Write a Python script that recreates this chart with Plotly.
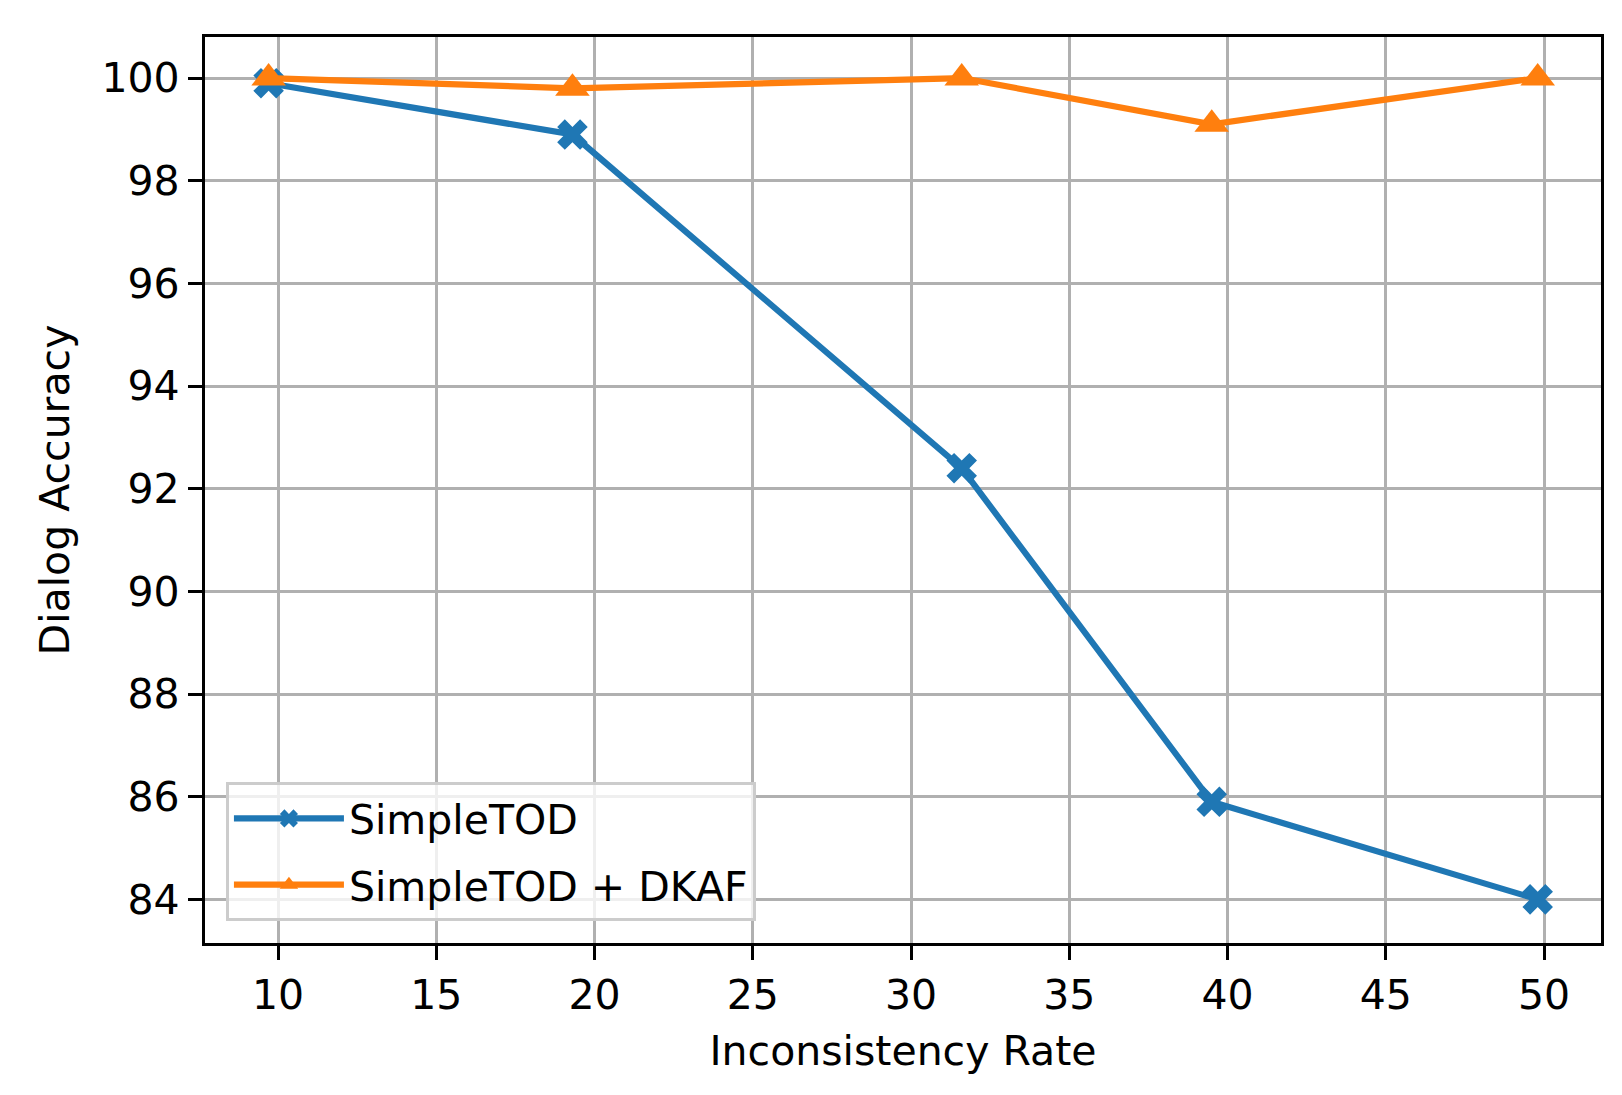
import plotly.graph_objects as go

x_rate = [9.7, 19.3, 31.6, 39.5, 49.8]
simpletod = [99.9, 98.9, 92.4, 85.9, 84.0]
simpletod_dkaf = [100.0, 99.8, 100.0, 99.1, 100.0]
series_names = ["SimpleTOD", "SimpleTOD + DKAF"]

FONT = "DejaVu Sans"
W, H = 1622, 1095
L, R, T, B = 197, 29, 29, 160

fig = go.Figure()
fig.add_trace(go.Scatter(
    x=x_rate, y=simpletod, name=series_names[0], mode="lines+markers",
    legendgroup="a",
    line=dict(color="#1f77b4", width=6.2),
    marker=dict(symbol="x", size=27, color="#1f77b4", line=dict(width=0)),
))
fig.add_trace(go.Scatter(
    x=x_rate, y=simpletod_dkaf, name=series_names[1], mode="lines+markers",
    legendgroup="b",
    line=dict(color="#ff7f0e", width=6.2),
    marker=dict(symbol="triangle-up", size=30, color="#ff7f0e", line=dict(width=0)),
))

axis_common = dict(
    showline=True, linecolor="black", linewidth=3.3, mirror=True,
    ticks="outside", ticklen=14, tickwidth=3.3, tickcolor="black",
    showgrid=True, gridcolor="#b0b0b0", gridwidth=3,
    zeroline=False,
    tickfont=dict(family=FONT, size=41, color="black"),
    title_font=dict(family=FONT, size=41, color="black"),
)

fig.update_xaxes(
    range=[7.69, 51.8], tick0=10, dtick=5,
    title_text="Inconsistency Rate", title_standoff=18,
    **axis_common,
)
fig.update_yaxes(
    range=[83.15, 100.8], tick0=84, dtick=2,
    title_text="Dialog Accuracy", title_standoff=20,
    **axis_common,
)

fig.update_layout(
    width=W, height=H,
    margin=dict(l=L, r=R, t=T, b=B),
    plot_bgcolor="white", paper_bgcolor="white",
    font=dict(family=FONT, size=41, color="black"),
    legend=dict(
        x=0.015, y=0.024, xanchor="left", yanchor="bottom",
        bgcolor="rgba(255,255,255,0.8)", bordercolor="#cccccc", borderwidth=3,
        font=dict(family=FONT, size=41, color="black"),
        itemwidth=110,
        tracegroupgap=10,
        traceorder="grouped",
    ),
    showlegend=True,
)

fig.write_html("out.html")
